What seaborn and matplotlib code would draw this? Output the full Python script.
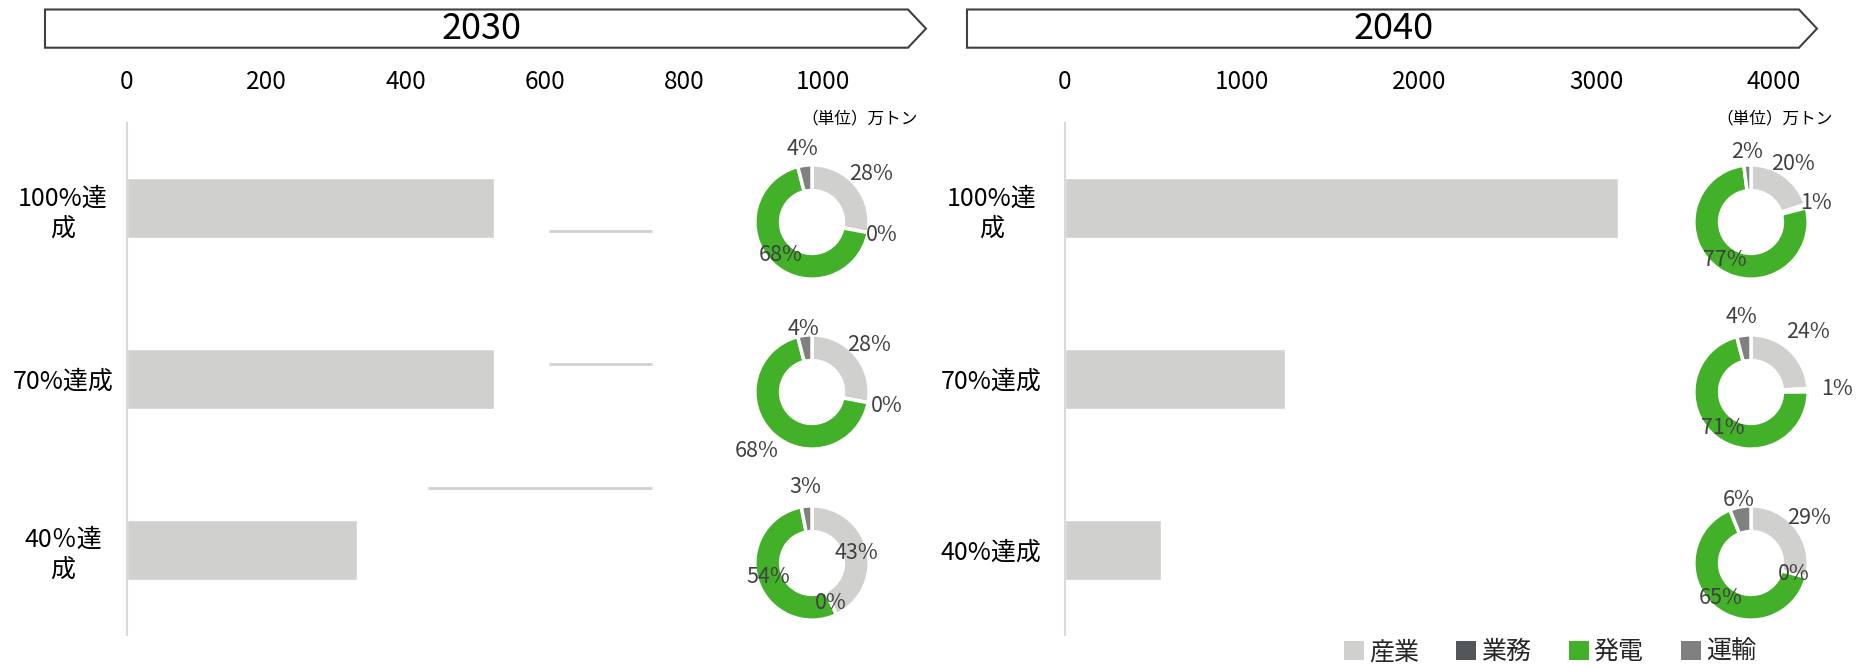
import numpy as np
import pandas as pd
import matplotlib
matplotlib.use("Agg")
import matplotlib.pyplot as plt
import seaborn as sns
from matplotlib.patches import Polygon, Patch

# ---------------- data ----------------
sectors = ["産業", "業務", "発電", "運輸"]
sector_colors = ["#D0D0CE", "#54575A", "#43B02A", "#808080"]

cats_2030 = ["100%達\n成", "70%達成", "40％達\n成"]
totals_2030 = [527, 527, 330]
ticks_2030 = [0, 200, 400, 600, 800, 1000]
share_2030_100 = [28, 0, 68, 4]
share_2030_70 = [28, 0, 68, 4]
share_2030_40 = [43, 0, 54, 3]
# stray grey leader lines visible in the 2030 panel (category position, x start, x end)
leader_y_2030 = [0.13, 0.91, 1.64]
leader_x0_2030 = [606, 606, 433]
leader_x1_2030 = [755, 755, 755]

cats_2040 = ["100%達\n成", "70%達成", "40%達成"]
totals_2040 = [3120, 1240, 540]
ticks_2040 = [0, 1000, 2000, 3000, 4000]
share_2040_100 = [20, 1, 77, 2]
share_2040_70 = [24, 1, 71, 4]
share_2040_40 = [29, 0, 65, 6]

unit_label = "（単位）万トン"

# ---------------- layout (label radius of each donut label, Excel "best fit") ----
label_r_2030 = [[1.33, 1.24, 0.80, 1.29],
                [1.29, 1.33, 1.42, 1.12],
                [0.80, 0.78, 0.80, 1.34]]
label_r_2040 = [[1.25, 1.18, 0.81, 1.23],
                [1.45, 1.50, 0.80, 1.33],
                [1.28, 0.78, 0.81, 1.12]]

# ---------------- style ----------------
sns.set_theme(style="white")
plt.rcParams["font.family"] = ["Noto Sans CJK JP", "DejaVu Sans"]

W, H = 1868, 665
fig = plt.figure(figsize=(W / 100, H / 100), dpi=100)


def fx(px):
    return px / W


def fy(py_top):
    return 1 - py_top / H


def bar_panel(left_px, width_px, xmax, cats, totals, ticks, ypad):
    ax = fig.add_axes([fx(left_px), 30 / H, fx(width_px), 512 / H])
    df = pd.DataFrame({"cat": cats, "val": totals})
    sns.barplot(data=df, x="val", y="cat", orient="h", color="#D0D0CE",
                saturation=1, width=0.35, ax=ax)
    ax.set_xlim(0, xmax)
    ax.set_ylim(2.5, -0.5)
    ax.set_xticks(ticks)
    ax.xaxis.tick_top()
    ax.tick_params(axis="x", length=0, pad=20, labelsize=17.5, colors="#000000")
    ax.tick_params(axis="y", length=0, pad=ypad, labelsize=18, colors="#000000")
    for lbl in ax.get_yticklabels():
        lbl.set_ha("center")
        lbl.set_multialignment("center")
    ax.set_xlabel("")
    ax.set_ylabel("")
    for s in ["top", "right", "bottom"]:
        ax.spines[s].set_visible(False)
    ax.spines["left"].set_color("#D9D9D9")
    ax.spines["left"].set_linewidth(1.5)
    ax.patch.set_alpha(0)
    return ax


ax_l = bar_panel(127, 696, 1000, cats_2030, totals_2030, ticks_2030, 46)
ax_l.hlines(leader_y_2030, leader_x0_2030, leader_x1_2030, color="#D0D0CE", lw=2)
ax_r = bar_panel(1065, 709, 4000, cats_2040, totals_2040, ticks_2040, 53)


def donut(cx, cy_top, vals, radii):
    size = 160
    ax = fig.add_axes([fx(cx - size / 2), fy(cy_top + size / 2), fx(size), size / H])
    wedges, _ = ax.pie(vals, colors=sector_colors, startangle=90, counterclock=False,
                       radius=1,
                       wedgeprops=dict(width=0.45, edgecolor="white", linewidth=2.5))
    for w, v, r in zip(wedges, vals, radii):
        ang = np.deg2rad((w.theta1 + w.theta2) / 2)
        ax.text(r * np.cos(ang), r * np.sin(ang), f"{v}%", ha="center", va="center",
                color="#404040", fontsize=15.5)
    ax.set_xlim(-1.4, 1.4)
    ax.set_ylim(-1.4, 1.4)
    ax.set_aspect("equal")
    ax.axis("off")


for cy, vals, rr in zip([222, 392, 563], [share_2030_100, share_2030_70, share_2030_40],
                        label_r_2030):
    donut(812, cy, vals, rr)
for cy, vals, rr in zip([222, 392, 563], [share_2040_100, share_2040_70, share_2040_40],
                        label_r_2040):
    donut(1751, cy, vals, rr)


# ---------------- chevron headers ----------------
def header(x0, x1, tip, text, tx):
    y0, y1 = 9.5, 47.7
    ym = (y0 + y1) / 2
    pts = [(fx(x0), fy(y0)), (fx(x1), fy(y0)), (fx(tip), fy(ym)),
           (fx(x1), fy(y1)), (fx(x0), fy(y1))]
    fig.patches.append(Polygon(pts, closed=True, facecolor="white",
                               edgecolor="#404040", linewidth=1.5,
                               transform=fig.transFigure))
    fig.text(fx(tx), fy(ym), text, ha="center", va="center", fontsize=26,
             color="#000000")


header(45, 908, 926, "2030", 482)
header(967, 1799, 1817, "2040", 1394)

fig.text(fx(860), fy(119), unit_label, ha="center", va="center", fontsize=12, color="#000000")
fig.text(fx(1775), fy(119), unit_label, ha="center", va="center", fontsize=12, color="#000000")

handles = [Patch(facecolor=c, edgecolor="none", label=s) for s, c in zip(sectors, sector_colors)]
fig.legend(handles=handles, loc="center", bbox_to_anchor=(fx(1550), fy(652)), ncol=4,
           frameon=False, fontsize=18, handlelength=0.8, handleheight=0.8,
           handletextpad=0.2, columnspacing=1.5, borderaxespad=0, borderpad=0)

fig.savefig("out.png", dpi=100)
